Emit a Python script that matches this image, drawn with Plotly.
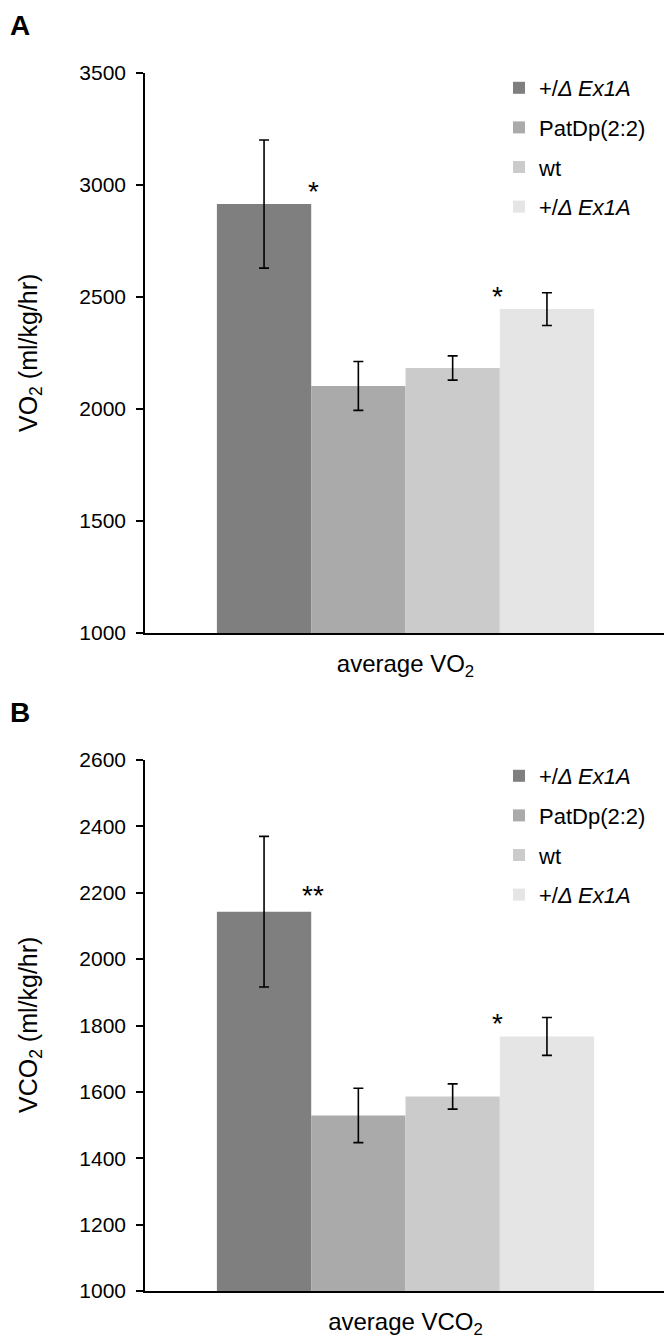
import plotly.graph_objects as go

# ---- data ----
groups = ["+/<i>Δ Ex1A</i>", "PatDp(2:2)", "wt", "+/<i>Δ Ex1A</i>"]
bar_colors = ["#7f7f7f", "#aaaaaa", "#cbcbcb", "#e5e5e5"]

cat_a = ["average VO<sub>2</sub>"]
vo2_mean = [2915, 2103, 2183, 2446]
vo2_err = [286, 109, 54, 73]
vo2_stars = ["*", "", "", "*"]

cat_b = ["average VCO<sub>2</sub>"]
vco2_mean = [2143, 1529, 1586, 1767]
vco2_err = [227, 82, 38, 57]
vco2_stars = ["**", "", "", "*"]

ytitle_a = "VO<sub>2</sub> (ml/kg/hr)"
ytitle_b = "VCO<sub>2</sub> (ml/kg/hr)"

FONT = "Liberation Sans, Arial, sans-serif"
BARGAP = 0.276

# the page body adds an 8px offset; size the figure to fit the window
OFF = 8
W, H = 672 - OFF, 1344 - OFF
L, R = 145 - OFF, 672 - 666
T, B = 73 - OFF, 1344 - 1291
pw, ph = W - L - R, H - T - B


def px_x(x):  # x in window pixels -> paper
    return (x - OFF - L) / pw


def px_y(y):  # y in window pixels -> paper
    return (H - B - (y - OFF)) / ph


fig = go.Figure()

panels = [
    dict(cat=cat_a, mean=vo2_mean, err=vo2_err, stars=vo2_stars, xa="x", ya="y", leg="legend", tag="a"),
    dict(cat=cat_b, mean=vco2_mean, err=vco2_err, stars=vco2_stars, xa="x2", ya="y2", leg="legend2", tag="b"),
]

for p in panels:
    for i in range(4):
        fig.add_trace(go.Bar(
            x=p["cat"], y=[p["mean"][i]], name=groups[i],
            marker=dict(color=bar_colors[i], line=dict(width=0)),
            error_y=dict(type="data", array=[p["err"][i]], color="black", thickness=1.6, width=5),
            xaxis=p["xa"], yaxis=p["ya"], legend=p["leg"],
            legendgroup=f"{p['tag']}{i}", offsetgroup=str(i),
        ))

# star annotations, placed next to bar edges
group_w = 1 - BARGAP
bar_w = group_w / 4
annotations = []
for p in panels:
    for i, s in enumerate(p["stars"]):
        if not s:
            continue
        left = -group_w / 2 + i * bar_w
        right = left + bar_w
        xpos = right + 0.004 if i == 0 else left - 0.005
        annotations.append(dict(
            x=xpos, y=p["mean"][i], xref=p["xa"], yref=p["ya"],
            text=s, showarrow=False, xanchor="center", yanchor="bottom",
            font=dict(size=28, color="black", family=FONT),
            yshift=-1 if len(s) > 1 else -5,
        ))

annotations.append(dict(x=px_x(8), y=px_y(8), xref="paper", yref="paper", text="<b>A</b>",
                        showarrow=False, xanchor="left", yanchor="top",
                        font=dict(size=28, color="black", family=FONT)))
annotations.append(dict(x=px_x(8), y=px_y(712), xref="paper", yref="paper", text="<b>B</b>",
                        showarrow=False, xanchor="left", yanchor="middle",
                        font=dict(size=28, color="black", family=FONT)))
# y-axis titles
annotations.append(dict(x=px_x(30), y=px_y(353), xref="paper", yref="paper", text=ytitle_a,
                        showarrow=False, textangle=-90, xanchor="center", yanchor="middle",
                        font=dict(size=25, color="black", family=FONT)))
annotations.append(dict(x=px_x(30), y=px_y(1025), xref="paper", yref="paper", text=ytitle_b,
                        showarrow=False, textangle=-90, xanchor="center", yanchor="middle",
                        font=dict(size=25, color="black", family=FONT)))

dom_a = [px_y(633), 1.0]
dom_b = [0.0, px_y(760)]

yaxis_common = dict(
    showline=True, linecolor="black", linewidth=1.6,
    ticks="outside", ticklen=7, tickwidth=1.6, tickcolor="black",
    showgrid=False, zeroline=False,
    tickfont=dict(size=21, color="black", family=FONT),
    ticklabelstandoff=6,
)
xaxis_common = dict(
    showline=True, linecolor="black", linewidth=1.6,
    ticks="", showgrid=False, zeroline=False,
    tickfont=dict(size=24, color="black", family=FONT),
    ticklabelstandoff=8,
)

legend_common = dict(
    font=dict(size=22, color="black", family=FONT),
    bgcolor="rgba(0,0,0,0)", borderwidth=0,
    tracegroupgap=8, xanchor="left", yanchor="top",
    itemclick=False, itemdoubleclick=False,
)

fig.update_layout(
    width=W, height=H,
    margin=dict(l=L, r=R, t=T, b=B),
    paper_bgcolor="white", plot_bgcolor="white",
    barmode="group", bargap=BARGAP, bargroupgap=0,
    font=dict(family=FONT, color="black"),
    xaxis=dict(domain=[0, 1], anchor="y", **xaxis_common),
    yaxis=dict(domain=dom_a, anchor="x", range=[1000, 3500], dtick=500, **yaxis_common),
    xaxis2=dict(domain=[0, 1], anchor="y2", **xaxis_common),
    yaxis2=dict(domain=dom_b, anchor="x2", range=[1000, 2600], dtick=200, **yaxis_common),
    legend=dict(x=px_x(499), y=px_y(67), **legend_common),
    legend2=dict(x=px_x(499), y=px_y(755), **legend_common),
    annotations=annotations,
    showlegend=True,
)

fig.write_html("out.html")
